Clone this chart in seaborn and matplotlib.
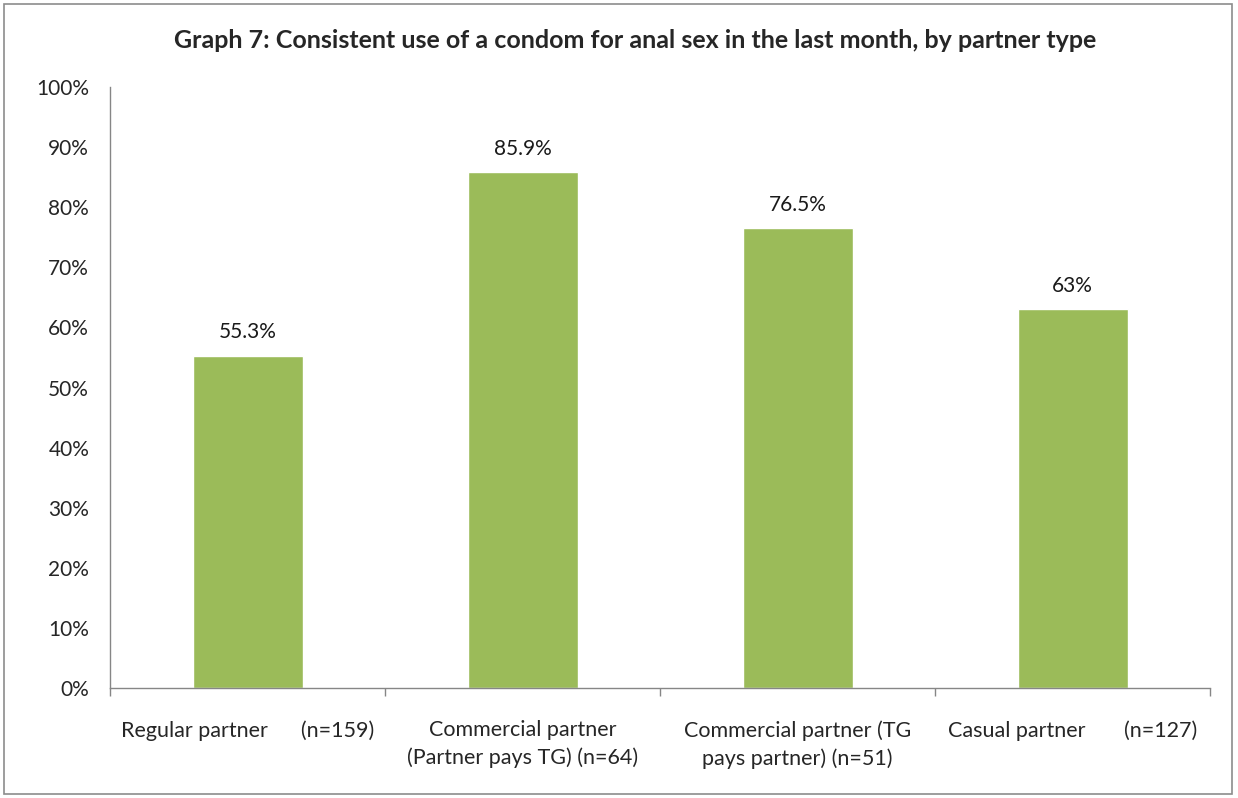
import matplotlib.pyplot as plt
import seaborn as sns
import numpy as np
import pandas as pd
from matplotlib.patches import Rectangle
from matplotlib.ticker import FixedLocator, PercentFormatter

# 데이터
categories = [
    "Regular partner      (n=159)",
    "Commercial partner\n(Partner pays TG) (n=64)",
    "Commercial partner (TG\npays partner) (n=51)",
    "Casual partner       (n=127)",
]
values = [55.3, 85.9, 76.5, 63.0]
value_labels = ["55.3%", "85.9%", "76.5%", "63%"]
y_ticks = list(range(0, 101, 10))

sns.set_style("white")
plt.rcParams['font.family'] = ['Lato', 'DejaVu Sans']

df = pd.DataFrame({'partner': categories, 'pct': values})

fig = plt.figure(figsize=(12.38, 7.98), dpi=100)
ax = fig.add_axes([110 / 1238, 110 / 798, 1100 / 1238, 601 / 798])

sns.barplot(data=df, x='partner', y='pct', color='#9BBB59', width=0.4,
            saturation=1, ax=ax)

for i, (v, lab) in enumerate(zip(values, value_labels)):
    ax.text(i, v + 2.2, lab, ha='center', va='bottom', fontsize=15, color='#1a1a1a')

ax.set_xlim(-0.5, len(categories) - 0.5)
ax.set_ylim(0, 100)
ax.set_yticks(y_ticks)
ax.yaxis.set_major_formatter(PercentFormatter(decimals=0))
ax.set_xlabel('')
ax.set_ylabel('')

ax.xaxis.set_minor_locator(FixedLocator(np.arange(-0.5, len(categories), 1.0)))
ax.tick_params(axis='x', which='major', length=0, pad=23, labelsize=15.5)
ax.tick_params(axis='x', which='minor', length=6, color='#868686', width=1,
               direction='out', bottom=True)
ax.tick_params(axis='y', length=6, color='#868686', width=1, direction='out',
               labelsize=15, pad=9)
for t in ax.get_xticklabels():
    t.set_linespacing(1.45)

for s in ['top', 'right']:
    ax.spines[s].set_visible(False)
for s in ['left', 'bottom']:
    ax.spines[s].set_color('#868686')
    ax.spines[s].set_linewidth(1)

# 제목 (그림 기준 배치)
fig.text(635 / 1238, 1 - 40 / 798,
         "Graph 7: Consistent use of a condom for anal sex in the last month, by partner type",
         ha='center', va='center', fontsize=18, fontweight='bold')

# 바깥 테두리
fig.patches.append(Rectangle((4 / 1238, 4 / 798), 1228 / 1238, 790 / 798,
                             transform=fig.transFigure, fill=False,
                             edgecolor='#8c8c8c', linewidth=1.2))

fig.savefig('out.png', dpi=100)
